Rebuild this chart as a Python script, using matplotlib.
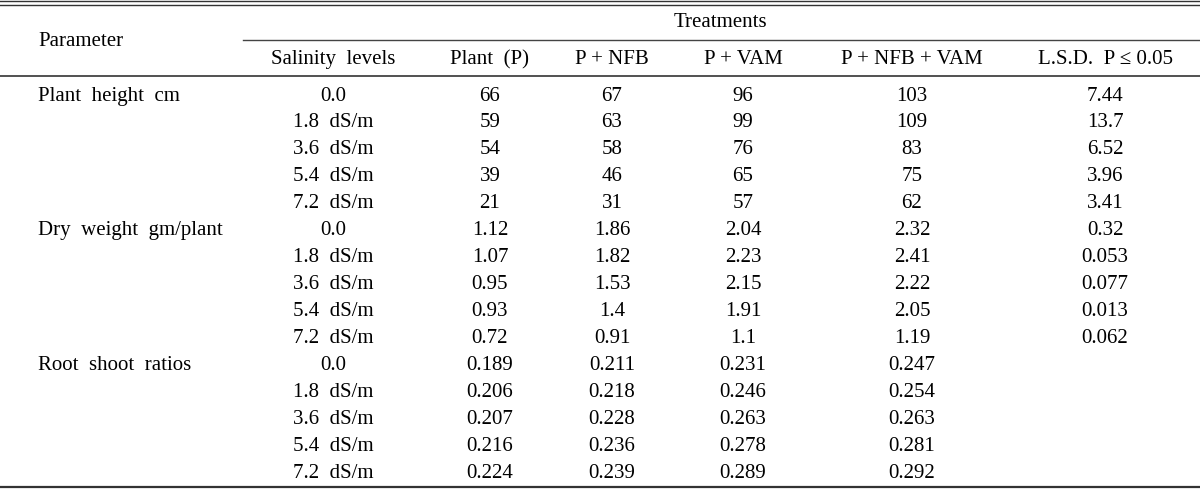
import matplotlib
matplotlib.use("Agg")
import matplotlib.pyplot as plt

plt.rcParams['font.family'] = ['Liberation Serif', 'DejaVu Serif']

columns = ["Salinity  levels", "Plant  (P)", "P + NFB", "P + VAM", "P + NFB + VAM", "L.S.D.  P ≤ 0.05"]
parameters = ["Plant  height  cm", "Dry  weight  gm/plant", "Root  shoot  ratios"]
salinity = ["0.0", "1.8  dS/m", "3.6  dS/m", "5.4  dS/m", "7.2  dS/m"]

plant_p = ["66", "59", "54", "39", "21",
           "1.12", "1.07", "0.95", "0.93", "0.72",
           "0.189", "0.206", "0.207", "0.216", "0.224"]
p_nfb = ["67", "63", "58", "46", "31",
         "1.86", "1.82", "1.53", "1.4", "0.91",
         "0.211", "0.218", "0.228", "0.236", "0.239"]
p_vam = ["96", "99", "76", "65", "57",
         "2.04", "2.23", "2.15", "1.91", "1.1",
         "0.231", "0.246", "0.263", "0.278", "0.289"]
p_nfb_vam = ["103", "109", "83", "75", "62",
             "2.32", "2.41", "2.22", "2.05", "1.19",
             "0.247", "0.254", "0.263", "0.281", "0.292"]
lsd = ["7.44", "13.7", "6.52", "3.96", "3.41",
       "0.32", "0.053", "0.077", "0.013", "0.062",
       "", "", "", "", ""]

W, H = 1200, 491
fig = plt.figure(figsize=(W / 100, H / 100), dpi=100)
ax = fig.add_axes([0, 0, 1, 1])
ax.set_xlim(0, W)
ax.set_ylim(H, 0)
ax.axis('off')

fs = 15
col_x = [333, 490, 612, 743, 912, 1105]

# rules
ax.plot([0, W], [1.3, 1.3], color='#333333', lw=1.0)
ax.plot([0, W], [5, 5], color='#333333', lw=1.0)
ax.plot([243, W], [40, 40], color='#444444', lw=1.0)
ax.plot([0, W], [76, 76], color='#333333', lw=1.2)
ax.plot([0, W], [487, 487], color='#333333', lw=1.6)

# headers
ax.text(38, 46, "Parameter", fontsize=fs, ha='left', va='baseline')
ax.text(720, 26.5, "Treatments", fontsize=fs, ha='center', va='baseline')
for x, c in zip(col_x, columns):
    ax.text(x, 64, c, fontsize=fs, ha='center', va='baseline')

y0, dy = 100.5, 26.93
cols_data = [plant_p, p_nfb, p_vam, p_nfb_vam, lsd]
for i in range(15):
    y = y0 + i * dy
    if i % 5 == 0:
        ax.text(38, y, parameters[i // 5], fontsize=fs, ha='left', va='baseline')
    ax.text(col_x[0], y, salinity[i % 5], fontsize=fs, ha='center', va='baseline')
    for x, data in zip(col_x[1:], cols_data):
        ax.text(x, y, data[i], fontsize=fs, ha='center', va='baseline')

fig.savefig("out.png", dpi=100)
